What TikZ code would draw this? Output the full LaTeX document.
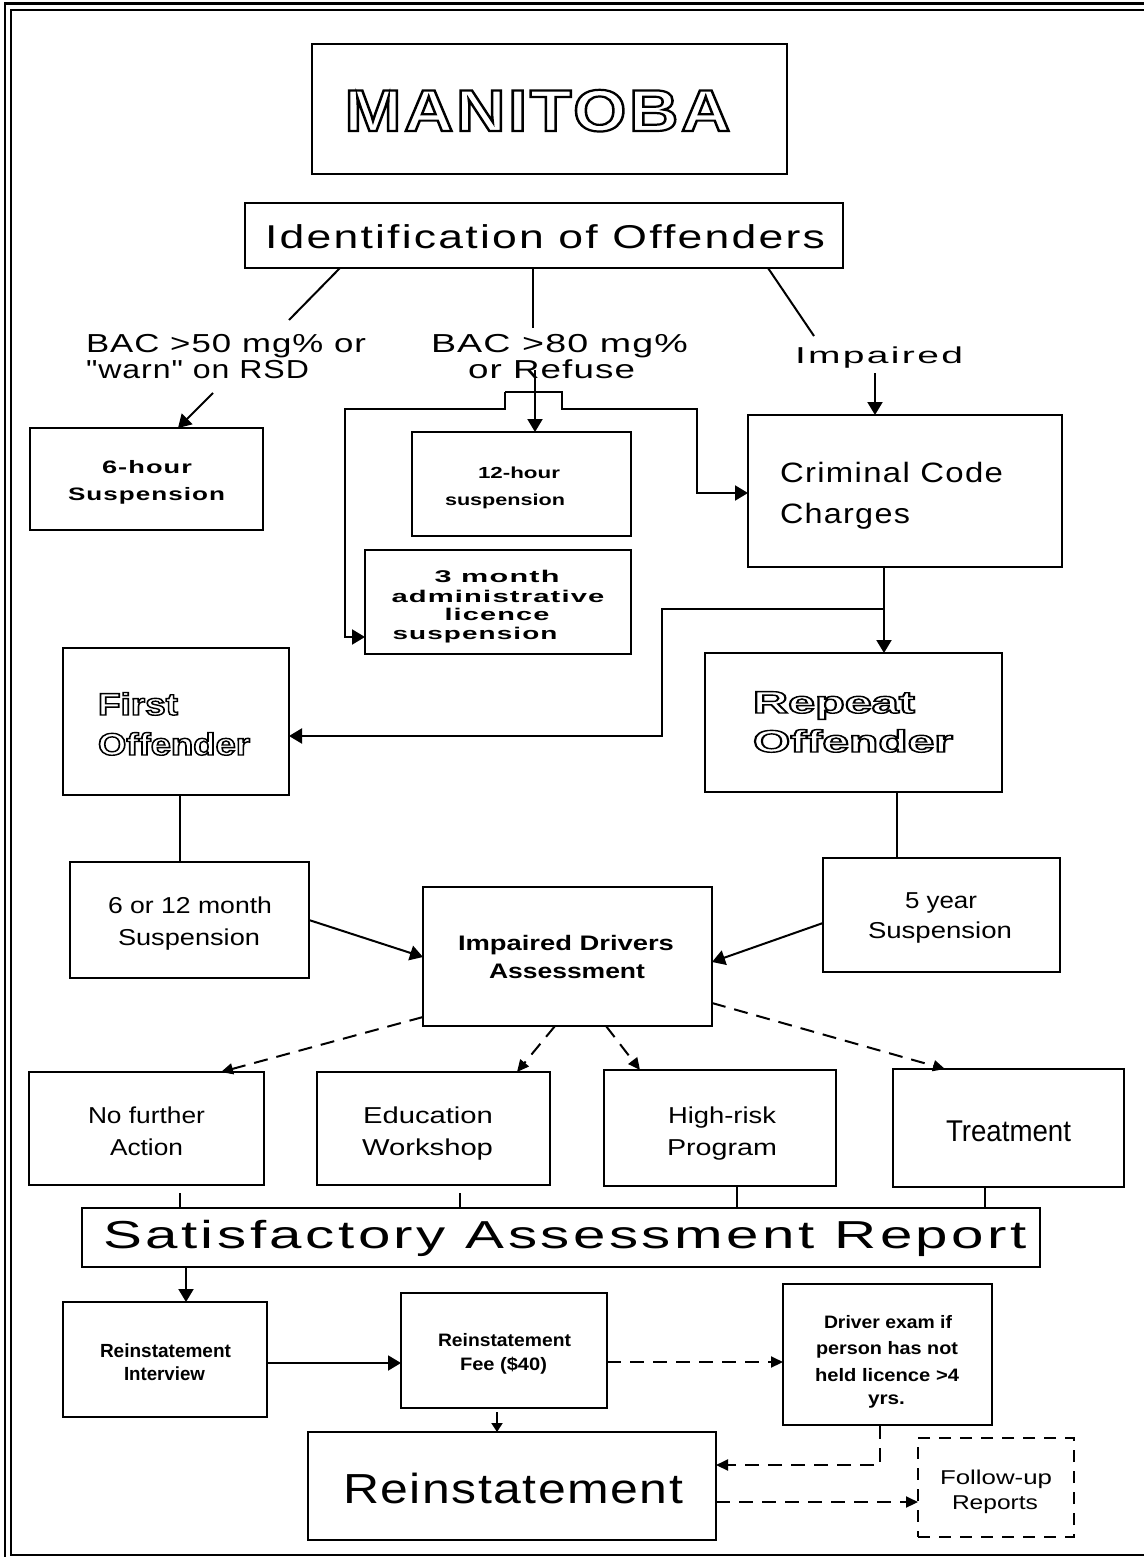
\documentclass[tikz,border=0pt]{standalone}
\usepackage{fontspec}
\setmainfont{Liberation Sans}
\newfontfamily\rawsans{Liberation Sans}
\usepackage{graphicx}
\usetikzlibrary{arrows.meta}

% fit a line of text to a given width, keeping its height
\newlength\fwlen
\makeatletter
\newcommand\fw[2]{\settowidth\fwlen{#2}%
  \edef\fwr{\strip@pt\dimexpr #1pt*65536/\number\fwlen\relax}%
  \scalebox{\fwr}[1]{#2}}
\makeatother
\newcommand\fsz[1]{\fontsize{#1}{#1}\selectfont}
\newcommand\lsp[1]{\addfontfeatures{LetterSpace=#1}}
% outlined (hollow) lettering: glyphs stroked, not filled
\newcommand\hollow[2]{\special{pdf:literal direct #1 w 1 Tr}#2\special{pdf:literal direct 0 Tr}}

% a framed box given by its corners (x1,y1) (x2,y2)
\newcommand\mkbox[6][]{%
  \node[box,#1,minimum width={#5pt-#3pt},minimum height={#6pt-#4pt}] (#2) at ({(#3+#5)/2},{(#4+#6)/2}) {};}

\tikzset{
  box/.style={draw,line width=2.3pt,inner sep=0pt,outer sep=0pt},
  dashbox/.style={dash pattern=on 12pt off 9pt},
  ln/.style={line width=2pt},
  arr/.style={ln,-{Triangle[length=13pt,width=15pt]}},
  darr/.style={ln,dash pattern=on 14pt off 9pt,-{Triangle[length=12pt,width=11pt]}},
  lbl/.style={inner sep=0pt,outer sep=0pt,anchor=base},
  lblw/.style={lbl,anchor=base west},
  frame/.style={line width=2.5pt},
}

\begin{document}
\begin{tikzpicture}[x=1pt,y=-1pt]
\useasboundingbox (0,0) rectangle (1144,1557);

% double page frame
\draw[frame] (5,1557) -- (5,3.5) -- (1144,3.5);
\draw[frame] (1144,1555) -- (11,1555) -- (11,10) -- (1144,10);

% boxes
\mkbox{man}{312}{44}{787}{174}
\mkbox{idn}{245}{203}{843}{268}
\mkbox{six}{30}{428}{263}{530}
\mkbox{twelve}{412}{432}{631}{536}
\mkbox{three}{365}{550}{631}{654}
\mkbox{ccc}{748}{415}{1062}{567}
\mkbox{first}{63}{648}{289}{795}
\mkbox{rep}{705}{653}{1002}{792}
\mkbox{sixtw}{70}{862}{309}{978}
\mkbox{five}{823}{858}{1060}{972}
\mkbox{ida}{423}{887}{712}{1026}
\mkbox{nfa}{29}{1072}{264}{1185}
\mkbox{edu}{317}{1072}{550}{1185}
\mkbox{hrp}{604}{1070}{836}{1186}
\mkbox{trt}{893}{1069}{1124}{1187}
\mkbox{sar}{82}{1208}{1040}{1267}
\mkbox{rint}{63}{1302}{267}{1417}
\mkbox{fee}{401}{1293}{607}{1408}
\mkbox{dex}{783}{1284}{992}{1425}
\mkbox{rein}{308}{1432}{716}{1540}
\mkbox[dashbox]{fol}{918}{1438}{1074}{1537}

% texts
\node[lbl] (tman) at (537.5,131) {\fsz{59}\bfseries\lsp{4}\fw{386}{\hollow{2.2}{MANITOBA}}};
\node[lbl] (tidn) at (545,248) {\fsz{33}\lsp{5}\fw{560}{Identification of Offenders}};
\node[lblw] (tb50a) at (86,352) {\fsz{26}\lsp{3}\fw{280}{BAC >50 mg\% or}};
\node[lblw] (tb50b) at (86,378) {\rawsans\fsz{26}\lsp{3}\fw{223}{"warn" on RSD}};
\node[lblw] (tb80a) at (431,352) {\fsz{26}\lsp{3}\fw{257}{BAC >80 mg\%}};
\node[lblw] (tb80b) at (468,378) {\fsz{26}\lsp{3}\fw{167}{or Refuse}};
\node[lblw] (timp) at (795,363) {\fsz{23}\lsp{6}\fw{168}{Impaired}};

\node[lbl] (tsixa) at (147,473) {\fsz{18}\bfseries\lsp{4}\fw{90}{6-hour}};
\node[lbl] (tsixb) at (146.5,500) {\fsz{18}\bfseries\lsp{4}\fw{157}{Suspension}};
\node[lbl] (ttwa) at (519,478) {\fsz{16}\bfseries\fw{82}{12-hour}};
\node[lbl] (ttwb) at (505,505) {\fsz{16}\bfseries\fw{120}{suspension}};
\node[lbl] (tthra) at (497,582) {\fsz{17}\bfseries\lsp{4}\fw{125}{3 month}};
\node[lbl] (tthrb) at (498,602) {\fsz{17}\bfseries\lsp{4}\fw{213}{administrative}};
\node[lbl] (tthrc) at (497,620) {\fsz{17}\bfseries\lsp{4}\fw{105}{licence}};
\node[lbl] (tthrd) at (475,639) {\fsz{17}\bfseries\lsp{4}\fw{165}{suspension}};

\node[lblw] (tccca) at (780,482) {\fsz{28}\lsp{4}\fw{223}{Criminal Code}};
\node[lblw] (tcccb) at (780,523) {\fsz{28}\lsp{4}\fw{130}{Charges}};

\node[lblw] (tfira) at (98,715) {\fsz{31}\bfseries\fw{80}{\hollow{1.4}{First}}};
\node[lblw] (tfirb) at (98,755) {\fsz{31}\bfseries\fw{152}{\hollow{1.4}{Offender}}};
\node[lblw] (trepa) at (753,713) {\fsz{31}\bfseries\fw{162}{\hollow{1.4}{Repeat}}};
\node[lblw] (trepb) at (753,752) {\fsz{31}\bfseries\fw{200}{\hollow{1.4}{Offender}}};

\node[lbl] (tstwa) at (190,913) {\fsz{23}\fw{164}{6 or 12 month}};
\node[lbl] (tstwb) at (189,945) {\fsz{23}\fw{142}{Suspension}};
\node[lbl] (tfivea) at (941,908) {\fsz{23}\fw{72}{5 year}};
\node[lbl] (tfiveb) at (940,938) {\fsz{23}\fw{144}{Suspension}};
\node[lbl] (tidaa) at (566,950) {\fsz{21}\bfseries\fw{216}{Impaired Drivers}};
\node[lbl] (tidab) at (567,978) {\fsz{21}\bfseries\fw{156}{Assessment}};

\node[lbl] (tnfaa) at (146.5,1123) {\fsz{23}\fw{117}{No further}};
\node[lbl] (tnfab) at (146.5,1155) {\fsz{23}\fw{73}{Action}};
\node[lbl] (tedua) at (428,1123) {\fsz{23}\fw{130}{Education}};
\node[lbl] (tedub) at (427.5,1155) {\fsz{23}\fw{131}{Workshop}};
\node[lbl] (thrpa) at (722,1123) {\fsz{23}\fw{108}{High-risk}};
\node[lbl] (thrpb) at (722,1155) {\fsz{23}\fw{110}{Program}};
\node[lbl] (ttrt) at (1008.5,1141) {\fsz{30}\fw{125}{Treatment}};

\node[lbl] (tsar) at (565,1248) {\fsz{39}\lsp{6}\fw{924}{Satisfactory Assessment Report}};

\node[lbl] (trinta) at (165.5,1357) {\fsz{19}\bfseries\fw{131}{Reinstatement}};
\node[lbl] (trintb) at (164.5,1380) {\fsz{19}\bfseries\fw{81}{Interview}};
\node[lbl] (tfeea) at (504.5,1346) {\fsz{18}\bfseries\fw{133}{Reinstatement}};
\node[lbl] (tfeeb) at (503.5,1370) {\fsz{18}\bfseries\fw{87}{Fee (\$40)}};
\node[lbl] (tdexa) at (888,1328) {\fsz{18}\bfseries\fw{128}{Driver exam if}};
\node[lbl] (tdexb) at (887,1354) {\fsz{18}\bfseries\fw{142}{person has not}};
\node[lbl] (tdexc) at (887,1381) {\fsz{18}\bfseries\fw{144}{held licence >4}};
\node[lbl] (tdexd) at (886.5,1404) {\fsz{18}\bfseries\fw{37}{yrs.}};
\node[lbl] (trein) at (513,1503) {\fsz{42}\lsp{3}\fw{340}{Reinstatement}};
\node[lbl] (tfola) at (996,1484) {\fsz{20}\fw{112}{Follow-up}};
\node[lbl] (tfolb) at (995,1509) {\fsz{20}\fw{86}{Reports}};

% free ends and junctions of connectors
\coordinate (k1) at (289,320);
\coordinate (k2) at (533,328);
\coordinate (k3) at (814,336);
\coordinate (k4) at (213,393);
\coordinate (k5) at (535,370);
\coordinate (k9) at (875,373);
\coordinate (jl) at (505,392);
\coordinate (jr) at (562,392);
\coordinate (jc) at (884,609);

% connectors
\draw[ln] (idn.south -| 340,0) -- (k1);
\draw[ln] (idn.south -| 533,0) -- (k2);
\draw[ln] (idn.south -| 768,0) -- (k3);
\draw[arr] (k4) -- (six.north -| 178,0);
\draw[arr] (k5) -- (twelve.north -| 535,0);
\draw[arr] (jl) -- (505,409) -- (345,409) |- (three.west |- 0,637);
\draw[arr] (jl) -- (jr) -- (562,409) -- (697,409) |- (ccc.west |- 0,493);
\draw[arr] (k9) -- (ccc.north -| 875,0);
\draw[arr] (ccc.south -| 884,0) -- (rep.north -| 884,0);
\draw[arr] (jc) -- (662,609) |- (first.east |- 0,736);
\draw[ln] (first.south -| 180,0) -- (sixtw.north -| 180,0);
\draw[ln] (rep.south -| 897,0) -- (five.north -| 897,0);
\draw[arr] (sixtw.east |- 0,920) -- (ida.west |- 0,957);
\draw[arr] (five.west |- 0,923) -- (ida.east |- 0,962);
\draw[darr] (ida.west |- 0,1017) -- (nfa.north -| 221,0);
\draw[darr] (ida.south -| 555,0) -- (edu.north -| 517,0);
\draw[darr] (ida.south -| 606,0) -- (hrp.north -| 640,0);
\draw[darr] (ida.east |- 0,1003) -- (trt.north -| 945,0);
\draw[ln] (nfa.south -| 180,0) ++(0,8) -- (sar.north -| 180,0);
\draw[ln] (edu.south -| 460,0) ++(0,8) -- (sar.north -| 460,0);
\draw[ln] (hrp.south -| 737,0) -- (sar.north -| 737,0);
\draw[ln] (trt.south -| 985,0) -- (sar.north -| 985,0);
\draw[arr] (sar.south -| 186,0) -- (rint.north -| 186,0);
\draw[arr] (rint.east |- 0,1363) -- (fee.west |- 0,1363);
\draw[ln,-{Triangle[length=9pt,width=11pt]}] (fee.south -| 497,0) ++(0,4) -- (rein.north -| 497,0);
\draw[darr] (fee.east |- 0,1362) -- (dex.west |- 0,1362);
\draw[darr] (dex.south -| 880,0) |- (rein.east |- 0,1465);
\draw[darr] (rein.east |- 0,1502) -- (fol.west |- 0,1502);
\end{tikzpicture}
\end{document}
